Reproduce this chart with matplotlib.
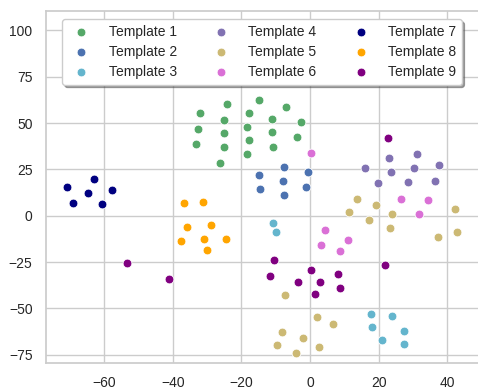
import matplotlib
matplotlib.use("Agg")
import matplotlib.pyplot as plt
import seaborn as sns

sns.set_theme(style="whitegrid")
plt.rcParams['font.family'] = ['Liberation Sans', 'DejaVu Sans']

labels = ["Template 1", "Template 2", "Template 3", "Template 4", "Template 5",
          "Template 6", "Template 7", "Template 8", "Template 9"]
colors = ["#55A868", "#4C72B0", "#64B5CD", "#8172B2", "#CCB974",
          "#DA70D6", "#000080", "#FFA500", "#800080"]

t1_x = [-32.1, -24.2, -14.9, -6.9, -17.8, -25.0, -11.2, -2.5, -32.7, -25.0,
        -18.3, -11.2, -3.9, -17.8, -33.3, -25.2, -10.7, -18.3, -26.1]
t1_y = [55.6, 60.3, 62.4, 58.5, 55.3, 51.5, 52.0, 50.6, 46.8, 44.5,
        47.9, 45.0, 42.5, 40.9, 38.5, 37.1, 37.1, 33.3, 28.6]
t2_x = [-7.7, -0.5, -14.9, -7.9, -14.6, -1.1, -7.6]
t2_y = [26.1, 23.4, 22.1, 18.9, 14.6, 15.7, 11.2]
t3_x = [-10.9, -9.8, 17.6, 23.9, 17.9, 27.3, 21.0, 27.5]
t3_y = [-3.8, -8.8, -53.0, -54.3, -60.2, -62.1, -67.1, -69.2]
t4_x = [22.9, 31.2, 16.0, 23.5, 30.4, 37.5, 19.8, 28.6, 36.5]
t4_y = [31.0, 33.3, 25.7, 23.7, 25.7, 27.2, 17.8, 18.3, 18.6]
t5_x = [13.6, 19.1, 11.4, 23.9, 17.2, 23.2, 42.2, 37.3, 42.7,
        -7.2, 2.1, 6.6, -8.1, -2.1, -9.5, 2.5, -4.0]
t5_y = [9.2, 5.8, 1.8, 0.9, -2.2, -6.6, 3.6, -11.3, -8.8,
        -43.0, -54.8, -58.4, -62.6, -65.8, -69.8, -70.9, -74.1]
t6_x = [0.2, 26.6, 34.3, 31.7, 4.4, 10.9, 3.2, 8.7]
t6_y = [34.0, 9.0, 8.6, 0.8, -7.7, -13.0, -15.6, -19.1]
t7_x = [-62.9, -70.7, -57.6, -64.6, -69.0, -60.7]
t7_y = [19.8, 15.5, 13.9, 12.4, 7.0, 6.5]
t8_x = [-36.8, -31.2, -35.9, -28.9, -31.0, -24.5, -37.7, -30.0]
t8_y = [7.0, 7.6, -6.3, -5.2, -12.4, -12.8, -13.8, -18.7]
t9_x = [22.8, -53.4, -41.1, -10.6, -11.7, 0.3, -3.6, 2.9, 1.5, 8.2, 8.8, 21.8]
t9_y = [41.9, -25.5, -34.3, -24.1, -32.4, -29.3, -35.6, -35.6, -42.3, -31.3, -39.2, -26.8]

xs = [t1_x, t2_x, t3_x, t4_x, t5_x, t6_x, t7_x, t8_x, t9_x]
ys = [t1_y, t2_y, t3_y, t4_y, t5_y, t6_y, t7_y, t8_y, t9_y]

fig = plt.figure(figsize=(4.78, 3.9), dpi=100)
ax = fig.add_axes([45.7 / 478, 1 - 362.7 / 390, 1 - 45.7 / 478 + 0.01, (362.7 - 11) / 390])
for x, y, c, lab in zip(xs, ys, colors, labels):
    ax.scatter(x, y, s=40, color=c, edgecolor="white", linewidth=0.6, label=lab, zorder=3)

ax.set_xlim(-77, 50.3)
ax.set_ylim(-79.3, 110.5)
ax.set_xticks([-60, -40, -20, 0, 20, 40])
ax.set_yticks([-75, -50, -25, 0, 25, 50, 75, 100])
ax.tick_params(labelsize=10, colors="#262626")
for s in ax.spines.values():
    s.set_color("#cccccc")
ax.grid(color="#cccccc", linewidth=1)

leg = ax.legend(loc="upper left", bbox_to_anchor=(0.0373, 0.977), borderaxespad=0,
                ncol=3, fontsize=10,
                frameon=True, shadow=True, fancybox=True, columnspacing=2.2,
                handletextpad=0.95, borderpad=0.4, labelspacing=0.45)
leg.get_frame().set_edgecolor("#cccccc")
leg.get_frame().set_facecolor("white")
leg.get_frame().set_alpha(1)

fig.savefig("out.png", dpi=100)
